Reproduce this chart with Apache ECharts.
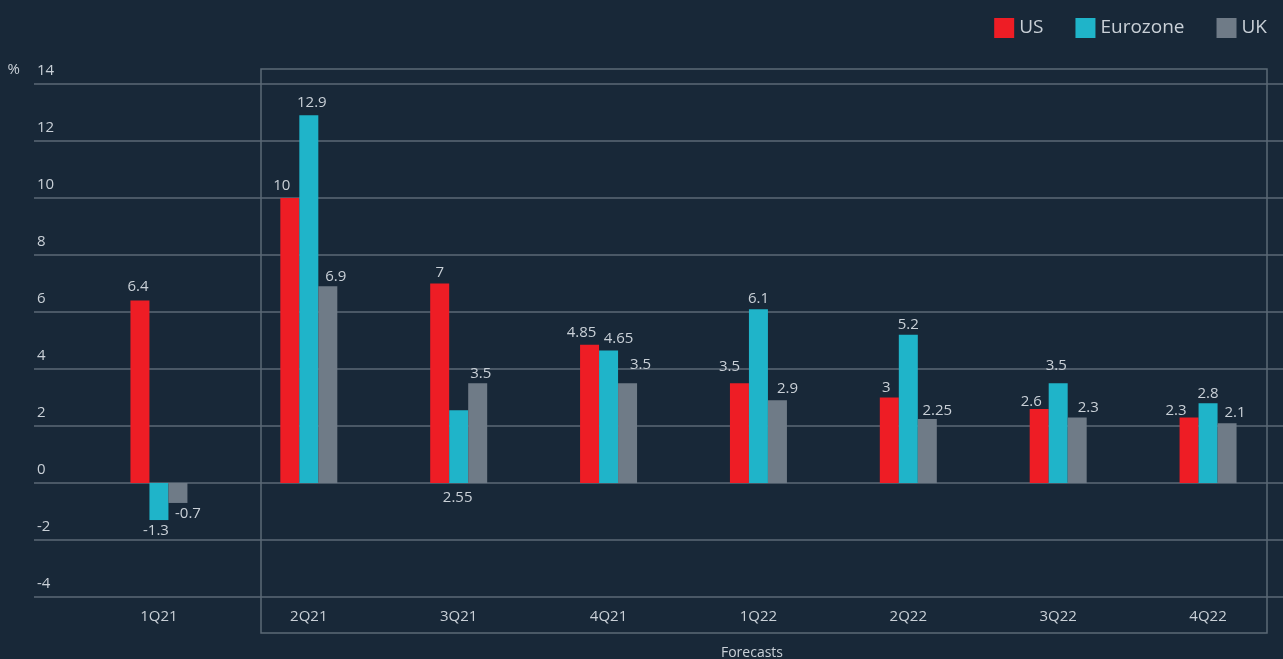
<!DOCTYPE html>
<html>
<head>
<meta charset="utf-8">
<script src="https://cdn.jsdelivr.net/npm/echarts@6/dist/echarts.min.js"></script>
<style>
  html, body { margin: 0; padding: 0; background: #182838; }
  #chart { width: 1283px; height: 659px; }
</style>
</head>
<body>
<div id="chart"></div>
<script>
// GDP growth, %
const categories = ['1Q21', '2Q21', '3Q21', '4Q21', '1Q22', '2Q22', '3Q22', '4Q22'];
const usValues = [6.4, 10, 7, 4.85, 3.5, 3, 2.6, 2.3];
const eurozoneValues = [-1.3, 12.9, 2.55, 4.65, 6.1, 5.2, 3.5, 2.8];
const ukValues = [-0.7, 6.9, 3.5, 3.5, 2.9, 2.25, 2.3, 2.1];
const yTicks = [-4, -2, 0, 2, 4, 6, 8, 10, 12, 14];

const textColor = '#c9d0d7';
const lineColor = '#5b6976';
const font = '"Open Sans", sans-serif';

// label nudges [dx, dy] (style only, keeps labels from colliding like the original)
const usNudge = [[-2, -3], [-8, -2], [0, 0], [-8, -2], [-10, -6], [-3, 1], [-8, 3], [-13, 4]];
const ezNudge = [[-3, 0], [3, -2], [-1, 4], [10, -1], [0, 0], [0, 0], [-2, -7], [0, 1]];
const ukNudge = [[10, 0], [8, 1], [3, 1], [13, -8], [10, -1], [10, 2], [11, 1], [8, 0]];

function makeSeries(name, values, color, nudge) {
  return {
    name: name,
    type: 'bar',
    barWidth: 19,
    barGap: '0%',
    itemStyle: { color: color },
    data: values.map((v, i) => {
      let item = { value: v, label: { offset: nudge[i] } };
      if (v < 0) item.label.position = 'bottom';
      return item;
    }),
    label: {
      show: true,
      position: 'top',
      distance: 3,
      color: textColor,
      fontFamily: font,
      fontSize: 15
    }
  };
}

const series = [
  makeSeries('US', usValues, '#ee1d25', usNudge),
  makeSeries('Eurozone', eurozoneValues, '#1fb4c9', ezNudge),
  makeSeries('UK', ukValues, '#6f7b87', ukNudge)
];
// 3Q21 eurozone label sits under the zero line
series[1].data[2].label.position = 'bottom';

let myChart = echarts.init(document.getElementById('chart'));
myChart.setOption({
  backgroundColor: '#182838',
  animation: false,
  textStyle: { fontFamily: font },
  legend: {
    right: 11,
    top: 13,
    itemWidth: 20,
    itemHeight: 20,
    itemGap: 32,
    icon: 'rect',
    textStyle: { color: textColor, fontSize: 19, fontFamily: font },
    data: ['US', 'Eurozone', 'UK']
  },
  grid: [
    { left: 84, right: -2, top: 84, bottom: 62, containLabel: false },
    { left: 34, right: 0, top: 84, bottom: 62, containLabel: false }
  ],
  xAxis: [
    {
      type: 'category',
      gridIndex: 0,
      data: categories,
      axisLine: { show: false },
      axisTick: { show: false },
      axisLabel: { color: textColor, fontSize: 15, margin: 12, fontFamily: font }
    },
    { type: 'value', gridIndex: 1, show: false }
  ],
  yAxis: [
    {
      type: 'value',
      gridIndex: 0,
      min: yTicks[0],
      max: yTicks[yTicks.length - 1],
      interval: 2,
      show: false
    },
    {
      // only here for the full-width gridlines and tick labels
      type: 'value',
      gridIndex: 1,
      min: yTicks[0],
      max: yTicks[yTicks.length - 1],
      interval: 2,
      name: '%',
      nameLocation: 'end',
      nameGap: 7,
      nameTextStyle: { color: textColor, fontSize: 15, align: 'right', padding: [0, 14, 0, 0] },
      axisLine: { show: false },
      axisTick: { show: false },
      splitLine: { lineStyle: { color: lineColor, width: 1.5 } },
      axisLabel: {
        inside: true,
        margin: 3,
        verticalAlign: 'bottom',
        padding: [0, 0, 6, 0],
        color: textColor,
        fontSize: 15,
        fontFamily: font
      }
    }
  ],
  graphic: [
    {
      type: 'rect',
      shape: { x: 261, y: 69, width: 1006, height: 564 },
      style: { fill: 'none', stroke: lineColor, lineWidth: 1.5 },
      silent: true
    },
    {
      type: 'text',
      x: 752,
      y: 653,
      style: { text: 'Forecasts', fill: textColor, font: '14px ' + font, align: 'center', verticalAlign: 'middle' },
      silent: true
    }
  ],
  series: series
});
</script>
</body>
</html>
